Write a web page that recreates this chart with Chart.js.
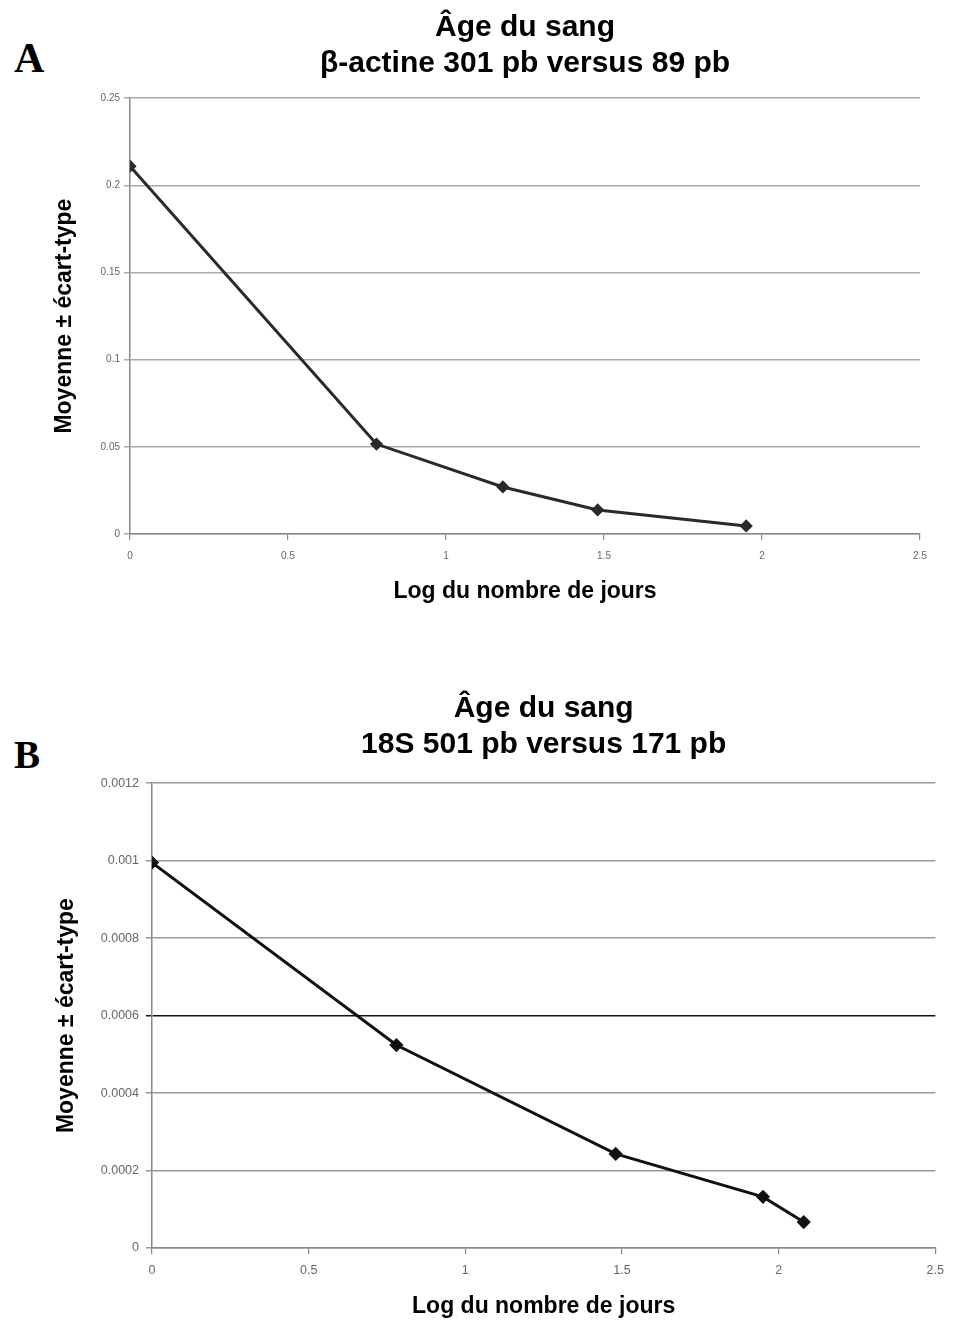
<!DOCTYPE html>
<html>
<head>
<meta charset="utf-8">
<script src="https://cdn.jsdelivr.net/npm/chart.js@4.4.1/dist/chart.umd.min.js"></script>
<style>
    body { margin: 0; background: #fff; width: 953px; height: 1320px; position: relative; overflow: hidden; }
    .panel { position: absolute; left: 0; width: 953px; }
    .lettre { position: absolute; left: 14px; font-family: "Liberation Serif", serif; font-weight: bold; line-height: 1; color: #000; }
</style>
</head>
<body>
<div class="lettre" style="top:37px; font-size:42px;">A</div>
<div id="boxA" class="panel" style="top:0; height:620px;"><canvas id="chartA"></canvas></div>
<div class="lettre" style="top:735px; font-size:39px;">B</div>
<div id="boxB" class="panel" style="top:670px; height:650px;"><canvas id="chartB"></canvas></div>
<script>
// Graphe A : beta-actine 301 pb / 89 pb
var jourLogA = [0, 0.78, 1.18, 1.48, 1.95];
var moyenneA = [0.211, 0.0516, 0.027, 0.0138, 0.0046];
var xTicksA = [0, 0.5, 1, 1.5, 2, 2.5];
var yTicksA = [0, 0.05, 0.1, 0.15, 0.2, 0.25];

// Graphe B : 18S 501 pb / 171 pb
var jourLogB = [0, 0.78, 1.48, 1.95, 2.08];
var moyenneB = [0.000995, 0.000524, 0.000243, 0.000132, 0.000067];
var xTicksB = [0, 0.5, 1, 1.5, 2, 2.5];
var yTicksB = [0, 0.0002, 0.0004, 0.0006, 0.0008, 0.001, 0.0012];

var titreA = ['Âge du sang', 'β-actine 301 pb versus 89 pb'];
var titreB = ['Âge du sang', '18S 501 pb versus 171 pb'];
var titreX = 'Log du nombre de jours';
var titreY = 'Moyenne ± écart-type';

var police = '"Liberation Sans", Arial, sans-serif';

function points(xs, ys) {
    var pts = [];
    for (var i = 0; i < xs.length; i++) {
        pts.push({ x: xs[i], y: ys[i] });
    }
    return pts;
}

function fixeTicks(valeurs) {
    return function (scale) {
        scale.ticks = valeurs.map(function (v) { return { value: v }; });
    };
}

function etiquette(v) {
    return String(+(+v).toFixed(6));
}

function config(o) {
    return {
        type: 'line',
        data: {
            datasets: [{
                data: points(o.xs, o.ys),
                borderColor: o.couleurLigne,
                backgroundColor: o.couleurLigne,
                borderWidth: 3,
                pointStyle: 'rectRot',
                pointRadius: o.rayon,
                pointHoverRadius: o.rayon,
                tension: 0,
                fill: false
            }]
        },
        options: {
            responsive: true,
            maintainAspectRatio: false,
            animation: false,
            events: [],
            layout: { padding: o.padding },
            plugins: {
                legend: { display: false },
                tooltip: { enabled: false },
                title: {
                    display: true,
                    text: o.titre,
                    fullSize: false,
                    color: '#000',
                    font: { family: police, size: 30, weight: 'bold', lineHeight: 1.22 },
                    padding: o.titrePadding
                }
            },
            scales: {
                x: {
                    type: 'linear',
                    min: 0,
                    max: 2.5,
                    afterBuildTicks: fixeTicks(o.xTicks),
                    afterFit: function (scale) { scale.height = o.hauteurX; },
                    grid: { drawOnChartArea: false, tickLength: 6, color: o.couleurAxe, lineWidth: 1.2 },
                    border: { color: o.couleurAxe, width: 1.5 },
                    ticks: { font: { family: police, size: o.taillePolice }, color: '#666', padding: o.padX, maxRotation: 0, callback: etiquette },
                    title: {
                        display: true,
                        text: titreX,
                        color: '#000',
                        font: { family: police, size: 23, weight: 'bold', lineHeight: 1.2 },
                        padding: { top: 0, bottom: o.titreXBas }
                    }
                },
                y: {
                    type: 'linear',
                    min: 0,
                    max: o.yMax,
                    afterBuildTicks: fixeTicks(o.yTicks),
                    afterFit: function (scale) { scale.width = o.largeurY; },
                    grid: {
                        tickLength: 6,
                        lineWidth: 1.5,
                        color: o.couleurGrille
                    },
                    border: { color: o.couleurAxe, width: 1.5 },
                    ticks: { font: { family: police, size: o.taillePolice }, color: '#666', padding: o.padY, callback: etiquette },
                    title: {
                        display: true,
                        text: titreY,
                        color: '#000',
                        font: { family: police, size: 23, weight: 'bold', lineHeight: 1.2 },
                        padding: { top: 7, bottom: 0 }
                    }
                }
            }
        }
    };
}

new Chart(document.getElementById('chartA'), config({
    xs: jourLogA, ys: moyenneA, xTicks: xTicksA, yTicks: yTicksA, yMax: 0.25,
    titre: titreA,
    titrePadding: { top: 9, bottom: 16 },
    padding: { left: 44, right: 33, top: 0, bottom: 0 },
    largeurY: 86, hauteurX: 86, titreXBas: 15,
    taillePolice: 10, padX: 10, padY: 4, rayon: 4.5,
    couleurLigne: '#2a2a2a', couleurAxe: '#8a8a8a', couleurGrille: '#aaaaaa'
}));

new Chart(document.getElementById('chartB'), config({
    xs: jourLogB, ys: moyenneB, xTicks: xTicksB, yTicks: yTicksB, yMax: 0.0012,
    titre: titreB,
    titrePadding: { top: 20, bottom: 20 },
    padding: { left: 46, right: 10, top: 0, bottom: 0 },
    largeurY: 106, hauteurX: 72, titreXBas: 0,
    taillePolice: 12.5, padX: 9, padY: 7, rayon: 5,
    couleurLigne: '#111', couleurAxe: '#888',
    couleurGrille: function (ctx) { return ctx.tick && ctx.tick.value === 0.0006 ? '#111' : '#999'; }
}));
</script>
</body>
</html>
